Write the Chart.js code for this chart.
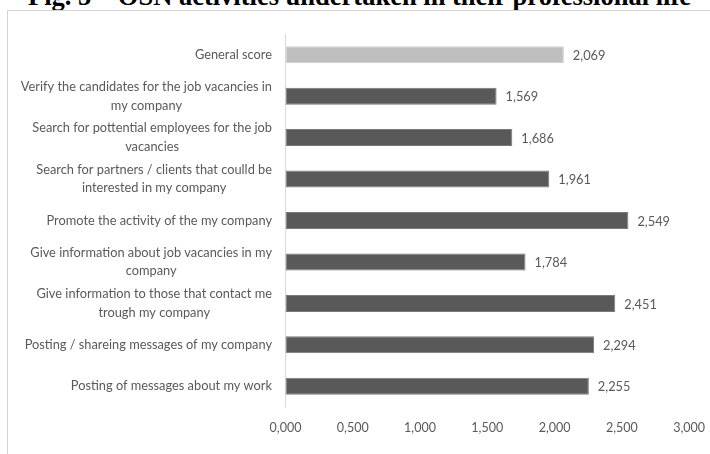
<!DOCTYPE html>
<html>
<head>
<meta charset="utf-8">
<script src="https://cdn.jsdelivr.net/npm/chart.js@4.4.0/dist/chart.umd.min.js"></script>
<style>
  body { margin: 0; background: #fff; width: 710px; height: 454px; overflow: hidden; position: relative; }
  #title { position: absolute; left: 28px; top: -19px; white-space: nowrap; line-height: 30px;
    font: bold 26.5px 'Liberation Serif', 'DejaVu Serif', serif; color: #000; }
  #frame { position: absolute; left: 7px; top: 10px; width: 720px; height: 460px;
    border-left: 1.5px solid #d4d4d4; border-top: 1.5px solid #d4d4d4; }
  #wrap { position: absolute; left: 0; top: 0; width: 710px; height: 454px; }
</style>
</head>
<body>
<div id="title">Fig. 5 – OSN activities undertaken in their professional life</div>
<div id="frame"></div>
<div id="wrap"><canvas id="myChart"></canvas></div>
<script>
const labels = [
  ['General score'],
  ['Verify the candidates for the job vacancies in', 'my company'],
  ['Search for pottential employees for the job', 'vacancies'],
  ['Search for partners / clients that coulld be', 'interested in my company'],
  ['Promote the activity of the my company'],
  ['Give information about job vacancies in my', 'company'],
  ['Give information to those that contact me', 'trough my company'],
  ['Posting / shareing messages of my company'],
  ['Posting of messages about my work']
];
const scores = [2.069, 1.569, 1.686, 1.961, 2.549, 1.784, 2.451, 2.294, 2.255];
const tickValues = [0, 0.5, 1, 1.5, 2, 2.5, 3];

const fontFam = "Lato, 'Liberation Sans', Arial, sans-serif";
const textColor = '#595959';
const fmt = v => v.toFixed(3).replace('.', ',');

// category labels: lines centred on each other, block right aligned
const catLabels = {
  id: 'catLabels',
  afterDraw(chart) {
    const ctx = chart.ctx;
    const ys = chart.scales.y;
    ctx.save();
    ctx.font = '12.8px ' + fontFam;
    ctx.fillStyle = textColor;
    ctx.textAlign = 'center';
    ctx.textBaseline = 'middle';
    labels.forEach((lines, i) => {
      const y = ys.getPixelForValue(i);
      const widest = Math.max(...lines.map(l => ctx.measureText(l).width));
      const cx = 272 - widest / 2;
      const lh = 18.5;
      lines.forEach((l, k) => {
        ctx.fillText(l, cx, y - (lines.length - 1) * lh / 2 + k * lh);
      });
    });
    ctx.restore();
  }
};

const valueLabels = {
  id: 'valueLabels',
  afterDatasetsDraw(chart) {
    const ctx = chart.ctx;
    const meta = chart.getDatasetMeta(0);
    ctx.save();
    ctx.font = '12.8px ' + fontFam;
    ctx.fillStyle = textColor;
    ctx.textAlign = 'left';
    ctx.textBaseline = 'middle';
    meta.data.forEach((bar, i) => {
      ctx.fillText(fmt(scores[i]), bar.x + 9, bar.y + 1);
    });
    ctx.restore();
  }
};

const ctx = document.getElementById('myChart').getContext('2d');
const myChart = new Chart(ctx, {
  type: 'bar',
  data: {
    labels: labels.map(l => l.join(' ')),
    datasets: [{
      data: scores,
      backgroundColor: scores.map((v, i) => i === 0 ? '#bfbfbf' : '#595959'),
      borderColor: scores.map((v, i) => i === 0 ? '#d0d0d0' : '#7a7a7a'),
      borderWidth: 1,
      borderSkipped: false,
      barPercentage: 0.82,
      categoryPercentage: 0.5
    }]
  },
  options: {
    indexAxis: 'y',
    responsive: true,
    maintainAspectRatio: false,
    animation: false,
    layout: { padding: { top: 34, right: 19, bottom: 14, left: 0 } },
    plugins: {
      legend: { display: false },
      tooltip: { enabled: false }
    },
    scales: {
      x: {
        min: 0,
        max: 3,
        afterBuildTicks: s => { s.ticks = tickValues.map(v => ({ value: v })); },
        ticks: {
          callback: v => fmt(v),
          color: textColor,
          font: { family: fontFam, size: 12.5 },
          padding: 5,
          maxRotation: 0
        },
        grid: { display: false },
        border: { display: false }
      },
      y: {
        afterFit: s => { s.width = 285.5; },
        ticks: { display: false },
        grid: { display: false },
        border: { display: true, color: '#d9d9d9', width: 1 }
      }
    }
  },
  plugins: [catLabels, valueLabels]
});
</script>
</body>
</html>
